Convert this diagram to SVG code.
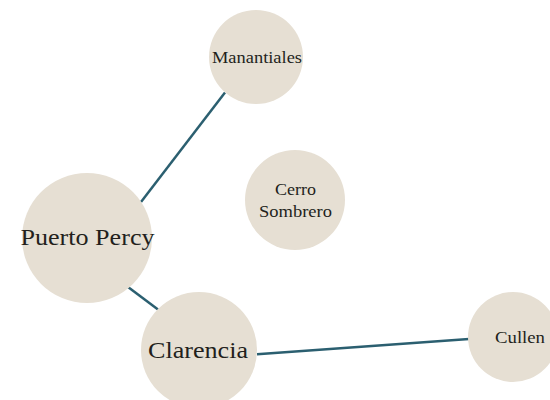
<svg xmlns="http://www.w3.org/2000/svg" width="550" height="400" viewBox="0 0 550 400">
<style>
.node{fill:#e6dfd3;}
.edge{stroke:#2b5f70;stroke-width:2.5;fill:none;}
text{font-family:"Liberation Serif","Times New Roman",serif;fill:#231f1c;text-anchor:middle;}
.big{font-size:24px;}
.small{font-size:16px;}
</style>
<rect width="550" height="400" fill="#ffffff"/>
<g id="connectors">
<line class="edge" x1="225" y1="92.5" x2="141" y2="202"/>
<line class="edge" x1="128" y1="287" x2="158" y2="309.5"/>
<line class="edge" x1="257" y1="354.3" x2="469" y2="339"/>
</g>
<g id="node-manantiales">
<circle class="node" cx="256" cy="57" r="47"/>
<text class="small" x="257" y="63" textLength="90" lengthAdjust="spacingAndGlyphs">Manantiales</text>
</g>
<g id="node-cerro-sombrero">
<circle class="node" cx="295" cy="200" r="50"/>
<text class="small" x="295.5" y="195" textLength="41" lengthAdjust="spacingAndGlyphs">Cerro</text>
<text class="small" x="295.5" y="217" textLength="73" lengthAdjust="spacingAndGlyphs">Sombrero</text>
</g>
<g id="node-puerto-percy">
<circle class="node" cx="87" cy="238" r="65"/>
<text class="big" x="87.5" y="245" textLength="134" lengthAdjust="spacingAndGlyphs">Puerto Percy</text>
</g>
<g id="node-clarencia">
<circle class="node" cx="199" cy="350" r="58"/>
<text class="big" x="198" y="358" textLength="100" lengthAdjust="spacingAndGlyphs">Clarencia</text>
</g>
<g id="node-cullen">
<circle class="node" cx="513" cy="337" r="45"/>
<text class="small" x="520" y="343" textLength="50" lengthAdjust="spacingAndGlyphs">Cullen</text>
</g>
</svg>
